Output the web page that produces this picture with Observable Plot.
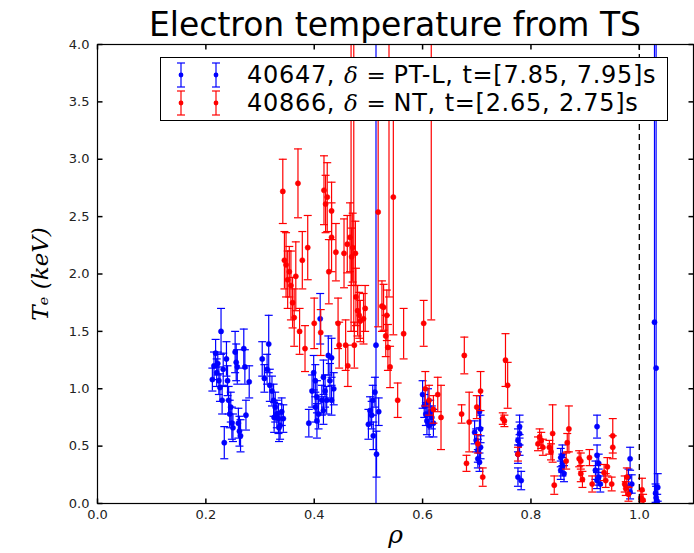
<!DOCTYPE html>
<html><head><meta charset="utf-8">
<script src="https://cdn.jsdelivr.net/npm/d3@7"></script>
<script src="https://cdn.jsdelivr.net/npm/@observablehq/plot@0.6"></script>
<style>
body{margin:0;background:#fff;}
#wrap{position:relative;width:694px;height:553px;font-family:"DejaVu Sans",sans-serif;overflow:hidden;}
#title{position:absolute;left:97px;width:596px;top:8px;height:34px;line-height:34px;text-align:center;font-size:33px;color:#000;white-space:nowrap;}
#legend{position:absolute;left:160px;top:57px;width:506px;height:62px;border:1.5px solid #000;background:#fff;}
.row{position:absolute;left:0;height:28px;width:506px;}
.row .lab{position:absolute;left:86px;top:0;height:28px;line-height:28px;font-size:24px;letter-spacing:0.7px;word-spacing:0.5px;white-space:nowrap;color:#000;}
.row svg{position:absolute;left:0;top:0;}
.m{font-family:"DejaVu Serif",serif;font-style:italic;font-size:23px;}
.eq{font-family:"DejaVu Serif",serif;font-size:23px;letter-spacing:0;}
</style>
</head><body>
<div id="wrap">
<div id="title">Electron temperature from TS</div>
</div>
<script>
// ---- data: shot 40647 (blue), delta = PT-L
const blueRho = [0.212,0.215,0.218,0.220,0.222,0.224,0.226,0.228,0.230,0.232,0.234,0.238,0.240,0.242,0.244,0.246,0.248,0.250,0.254,0.256,0.258,0.260,0.262,0.264,0.270,0.272,0.274,0.280,
0.304,0.308,0.313,0.316,0.318,0.322,0.325,0.328,0.331,0.326,0.334,0.337,0.343,0.335,0.340,
0.390,0.396,0.399,0.402,0.402,0.405,0.405,0.408,0.411,0.414,0.417,0.417,0.420,0.423,0.426,0.429,0.432,0.432,0.436,
0.500,0.503,0.506,0.508,0.509,0.512,0.514,0.515,0.519,
0.600,0.603,0.606,0.608,0.610,0.612,0.614,0.617,0.620,
0.696,0.699,0.702,0.705,0.707,0.707,0.702,0.705,
0.776,0.779,0.776,0.779,0.776,0.782,0.779,
0.855,0.858,0.861,0.855,0.858,0.858,
0.922,0.919,0.922,0.925,0.928,0.922,0.925,
0.983,0.986,0.980,0.983,
1.028,1.031,1.031,1.034,1.030,1.033];
const blueTe = [1.08,1.20,1.31,1.14,1.22,1.07,1.01,1.50,0.90,1.17,0.53,1.26,1.07,0.90,0.78,0.84,0.70,0.66,1.32,1.23,1.19,0.70,0.63,0.59,1.35,1.19,0.77,1.06,
1.26,1.09,1.17,1.39,1.03,0.98,0.90,0.84,0.78,0.75,0.74,0.68,0.74,0.66,0.80,
0.70,0.98,1.14,1.07,0.84,0.93,0.72,0.78,1.61,0.90,1.10,0.81,0.98,0.90,1.29,1.07,1.27,0.90,1.00,
0.69,0.81,0.77,0.90,0.59,0.97,1.38,0.43,0.80,
0.95,0.85,0.78,0.72,0.88,0.68,0.80,0.75,0.70,
0.62,0.55,0.46,0.80,0.65,0.49,0.39,0.36,
0.55,0.51,0.43,0.61,0.23,0.20,0.67,
0.40,0.32,0.26,0.29,0.35,0.42,
0.67,0.29,0.20,0.35,0.17,0.42,0.23,
0.39,0.17,0.23,0.10,
1.58,1.18,0.05,0.14,0.09,0.02];
const blueErr = [0.10,0.12,0.12,0.12,0.10,0.12,0.12,0.20,0.12,0.14,0.14,0.15,0.13,0.12,0.12,0.13,0.14,0.12,0.18,0.16,0.15,0.13,0.13,0.14,0.17,0.15,0.13,0.14,
0.15,0.12,0.13,0.25,0.14,0.13,0.14,0.13,0.12,0.13,0.13,0.12,0.12,0.12,0.12,
0.12,0.14,0.15,0.14,0.13,0.14,0.15,0.13,0.22,0.13,0.15,0.12,0.14,0.12,0.17,0.15,0.17,0.13,0.14,
0.13,0.12,0.12,0.13,0.12,0.13,4.00,0.20,0.12,
0.12,0.10,0.10,0.12,0.12,0.10,0.10,0.10,0.12,
0.10,0.10,0.10,0.14,0.12,0.10,0.08,0.08,
0.10,0.09,0.08,0.10,0.08,0.08,0.10,
0.08,0.08,0.07,0.08,0.08,0.09,
0.10,0.08,0.07,0.08,0.07,0.09,0.07,
0.10,0.08,0.07,0.06,
3.00,3.00,0.10,0.12,0.08,0.06];

// ---- data: shot 40866 (red), delta = NT
const redRho = [0.342,0.345,0.348,0.351,0.354,0.357,0.360,0.363,0.366,0.370,0.373,0.378,0.383,0.388,
0.400,0.412,0.418,0.421,0.424,0.427,0.432,0.432,0.440,0.444,0.446,0.455,0.458,0.461,0.462,0.466,0.468,0.469,0.471,0.473,0.474,0.476,0.477,0.480,0.483,0.485,0.491,0.494,
0.518,0.525,0.528,0.532,0.534,0.536,0.538,0.540,0.546,0.565,0.554,
0.602,0.616,0.605,0.612,0.620,0.628,0.634,
0.672,0.677,0.686,0.681,0.700,0.707,0.702,0.711,
0.753,0.757,0.748,0.751,0.776,
0.813,0.816,0.819,0.822,0.834,0.837,0.840,0.843,0.865,0.867,0.870,
0.889,0.892,0.892,0.895,0.908,0.913,0.935,0.938,0.941,0.951,0.951,0.949,
0.973,0.975,0.977,0.980,1.003,1.007,1.005];
const redTe = [2.72,2.12,2.08,1.95,2.02,1.90,1.75,1.62,1.98,2.79,1.50,2.12,1.35,2.23,
1.57,1.49,2.73,2.61,2.67,2.02,2.55,2.32,2.19,1.57,1.38,2.18,1.38,2.26,1.20,2.32,4.30,2.15,2.23,4.40,1.38,2.18,1.80,1.68,1.64,1.59,1.61,1.70,
2.54,1.72,1.71,1.46,1.64,1.36,4.50,1.19,2.67,1.48,0.90,
1.57,4.60,1.00,0.90,0.82,0.95,0.75,
0.78,1.29,0.71,0.35,0.84,0.98,0.52,0.23,
1.25,1.03,0.74,0.72,0.43,
0.52,0.58,0.55,0.49,0.49,0.45,0.61,0.16,0.37,0.53,0.65,
0.39,0.37,0.26,0.21,0.40,0.17,0.27,0.20,0.32,0.59,0.49,0.17,
0.17,0.13,0.23,0.08,0.05,0.03,0.12];
const redErr = [0.28,0.25,0.28,0.25,0.22,0.30,0.22,0.25,0.30,0.30,0.20,0.25,0.20,0.28,
0.22,0.20,0.30,0.25,0.30,0.28,0.25,0.30,0.25,0.22,0.20,0.30,0.22,0.25,0.18,0.30,2.80,0.25,0.30,2.90,0.20,0.28,0.25,0.22,0.20,0.18,0.22,0.20,
1.00,0.22,0.20,0.18,0.22,0.20,2.70,0.18,1.20,0.22,0.15,
0.20,3.00,0.15,0.13,0.12,0.15,0.28,
0.08,0.16,0.26,0.07,0.10,0.17,0.08,0.08,
0.23,0.20,0.05,0.05,0.06,
0.06,0.07,0.07,0.07,0.06,0.07,0.25,0.08,0.07,0.08,0.20,
0.07,0.07,0.07,0.07,0.07,0.07,0.07,0.06,0.08,0.15,0.10,0.06,
0.07,0.06,0.08,0.06,0.06,0.05,0.10];

const xTicks = [0.0,0.2,0.4,0.6,0.8,1.0];
const yTicks = [0.0,0.5,1.0,1.5,2.0,2.5,3.0,3.5,4.0];
const separatrix = [1.0];
const legendLabels = [
  {shot:"40647", delta:"PT-L", t:"[7.85, 7.95]", color:"blue"},
  {shot:"40866", delta:"NT", t:"[2.65, 2.75]", color:"red"}
];

// ---- build tables
const blue = blueRho.map((r,i)=>({rho:r, te:blueTe[i], err:blueErr[i]}));
const red = redRho.map((r,i)=>({rho:r, te:redTe[i], err:redErr[i]}));

const cap = {draw(c){ c.moveTo(-4,0); c.lineTo(4,0); }};
const tickUp = {draw(c){ c.moveTo(0,0); c.lineTo(0,-5); }};
const tickDown = {draw(c){ c.moveTo(0,0); c.lineTo(0,5); }};
const tickRight = {draw(c){ c.moveTo(0,0); c.lineTo(5,0); }};
const tickLeft = {draw(c){ c.moveTo(0,0); c.lineTo(-5,0); }};

function errMarks(data, color){
  return [
    Plot.ruleX(data, {x:"rho", y1:d=>d.te-d.err, y2:d=>d.te+d.err, stroke:color, strokeWidth:1.2, clip:true}),
    Plot.dot(data, {x:"rho", y:d=>d.te-d.err, symbol:cap, r:3, fill:"none", stroke:color, strokeWidth:1.2, clip:true}),
    Plot.dot(data, {x:"rho", y:d=>d.te+d.err, symbol:cap, r:3, fill:"none", stroke:color, strokeWidth:1.2, clip:true}),
    Plot.dot(data, {x:"rho", y:"te", r:2.6, fill:color, stroke:color, strokeWidth:0.5, clip:true})
  ];
}

const chart = Plot.plot({
  width:694, height:553,
  marginTop:44, marginBottom:50, marginLeft:97, marginRight:1,
  style:{fontFamily:"DejaVu Sans, sans-serif", fontSize:"13px", color:"#222", background:"white"},
  x:{domain:[0,1.1]},
  y:{domain:[0,4]},
  marks:[
    Plot.axisX({ticks:xTicks, tickSize:0, tickPadding:6, tickFormat:".1f", fontSize:13, label:null}),
    Plot.axisY({ticks:yTicks, tickSize:0, tickPadding:8, tickFormat:".1f", fontSize:13, label:null}),
    ...errMarks(blue, "blue"),
    ...errMarks(red, "red"),
    Plot.ruleX(separatrix, {stroke:"black", strokeWidth:1.3, strokeDasharray:"6,4"}),
    Plot.dot(xTicks, {x:d=>d, frameAnchor:"bottom", symbol:tickUp, r:3, fill:"none", stroke:"black"}),
    Plot.dot(xTicks, {x:d=>d, frameAnchor:"top", symbol:tickDown, r:3, fill:"none", stroke:"black"}),
    Plot.dot(yTicks, {y:d=>d, frameAnchor:"left", symbol:tickRight, r:3, fill:"none", stroke:"black"}),
    Plot.dot(yTicks, {y:d=>d, frameAnchor:"right", symbol:tickLeft, r:3, fill:"none", stroke:"black"}),
    Plot.frame({stroke:"black", strokeWidth:1.2}),
    Plot.text(["ρ"], {frameAnchor:"bottom", dy:39, textAnchor:"middle", text:d=>d, fontSize:25, fontStyle:"italic", fontFamily:"DejaVu Serif, serif", fill:"#000"}),
    Plot.text(["Tₑ (keV)"], {frameAnchor:"left", dx:-57, textAnchor:"middle", rotate:-90, text:d=>d, fontSize:23, fontStyle:"italic", fontFamily:"DejaVu Serif, serif", fill:"#000"})
  ]
});
const wrap = document.getElementById("wrap");
wrap.insertBefore(chart, wrap.firstChild);
chart.style.position = "absolute"; chart.style.left = "0"; chart.style.top = "0";

// ---- legend (HTML overlay)
const leg = document.createElement("div");
leg.id = "legend";
legendLabels.forEach((L, i) => {
  const row = document.createElement("div");
  row.className = "row";
  row.style.top = (3 + i*28) + "px";
  const icon = (cx) => `<line x1="${cx}" x2="${cx}" y1="2" y2="26" stroke="${L.color}" stroke-width="1.2"/>`+
    `<line x1="${cx-4}" x2="${cx+4}" y1="2" y2="2" stroke="${L.color}" stroke-width="1.2"/>`+
    `<line x1="${cx-4}" x2="${cx+4}" y1="26" y2="26" stroke="${L.color}" stroke-width="1.2"/>`+
    `<circle cx="${cx}" cy="14" r="2.4" fill="${L.color}"/>`;
  row.innerHTML = `<svg width="80" height="28">${icon(20)}${icon(55)}</svg>`+
    `<span class="lab">${L.shot}, <span class="m">δ</span><span class="eq"> = </span>${L.delta}, t=${L.t}s</span>`;
  leg.appendChild(row);
});
wrap.appendChild(leg);
</script>
</body></html>
